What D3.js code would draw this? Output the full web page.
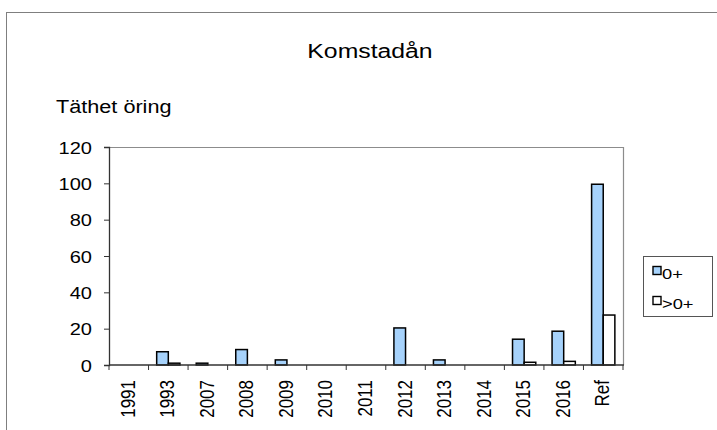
<!DOCTYPE html>
<html><head><meta charset="utf-8">
<script src="https://cdn.jsdelivr.net/npm/d3@7"></script>
<style>body{margin:0;background:#fff}svg{display:block;font-family:Arial,"Liberation Sans",sans-serif}</style>
</head><body>
<script>
const categories = ["1991","1993","2007","2008","2009","2010","2011","2012","2013","2014","2015","2016","Ref"];
const seriesNames = ["0+", ">0+"];
const values0 = [0, 7.3, 1, 8.5, 2.8, 0, 0, 20.4, 2.8, 0, 14.2, 18.6, 99.5];
const values1 = [0, 1, 0, 0, 0, 0, 0, 0, 0, 0, 1.5, 2, 27.5];
const yTicks = [0, 20, 40, 60, 80, 100, 120];
const colors = ["#a6d2fb", "#ffffff"];

const W = 717, H = 430;
const SX = 1.18; // horizontal stretch of the original text
const svg = d3.select("body").append("svg").attr("width", W).attr("height", H);
svg.append("rect").attr("x", 6.5).attr("y", 12.5).attr("width", W + 10).attr("height", H + 10)
  .attr("fill", "none").attr("stroke", "#7f7f7f").attr("stroke-width", 1);

const m = {left: 109, right: 623, top: 147, bottom: 365};
const x = d3.scaleBand().domain(categories).range([m.left, m.right]);
const y = d3.scaleLinear().domain([0, 120]).range([m.bottom, m.top]);
const xs = d3.scaleBand().domain([0, 1]).range([0, x.bandwidth()]).paddingOuter(0.7).paddingInner(0);

svg.append("text").attr("transform", `translate(370,58) scale(${SX},1)`).attr("text-anchor", "middle")
  .attr("font-size", 21).text("Komstadån");
svg.append("text").attr("transform", `translate(56,113) scale(1.14,1)`).attr("font-size", 19).text("Täthet öring");

// plot frame top/right
svg.append("path").attr("d", `M${m.left},${m.top+0.5}H${m.right+0.5}V${m.bottom}`)
  .attr("fill", "none").attr("stroke", "#8c8c8c").attr("stroke-width", 1.2);

const data = [values0, values1];
data.forEach((vals, s) => {
  svg.append("g").selectAll("rect").data(categories).join("rect")
    .attr("x", (c) => x(c) + xs(s))
    .attr("width", xs.bandwidth())
    .attr("y", (c, i) => y(vals[i]))
    .attr("height", (c, i) => m.bottom - y(vals[i]))
    .attr("fill", colors[s]).attr("stroke", "#000").attr("stroke-width", 1.5)
    .attr("display", (c, i) => vals[i] > 0 ? null : "none");
});

const yAxis = svg.append("g").attr("transform", `translate(${m.left},0)`)
  .call(d3.axisLeft(y).tickValues(yTicks).tickSize(5).tickPadding(8));
yAxis.selectAll("text").attr("font-size", 17).attr("fill", "#000")
  .attr("x", null).attr("dy", null)
  .attr("transform", `translate(-17,6) scale(${SX},1)`);
yAxis.select(".domain").attr("stroke", "#333").attr("stroke-width", 1.3);
yAxis.selectAll("line").attr("stroke", "#333");

const xAxis = svg.append("g").attr("transform", `translate(0,${m.bottom})`);
xAxis.append("line").attr("x1", m.left).attr("x2", m.right + 1).attr("stroke", "#333").attr("stroke-width", 1.3);
xAxis.selectAll("line.t").data(categories.concat(["end"])).join("line").attr("class", "t")
  .attr("x1", (c, i) => m.left + i * x.step()).attr("x2", (c, i) => m.left + i * x.step())
  .attr("y1", 0).attr("y2", 5).attr("stroke", "#333");
xAxis.selectAll("text").data(categories).join("text")
  .attr("transform", (c) => `translate(${x(c) + x.bandwidth() / 2 + 6},15) rotate(-90) scale(1,${SX})`)
  .attr("text-anchor", "end").attr("font-size", 17).text((c) => c);

// legend
const lg = svg.append("g");
lg.append("rect").attr("x", 643.5).attr("y", 256.5).attr("width", 69).attr("height", 60)
  .attr("fill", "#fff").attr("stroke", "#555").attr("stroke-width", 1);
seriesNames.forEach((n, i) => {
  const yy = 270.5 + i * 30;
  lg.append("rect").attr("x", 653).attr("y", yy - 4).attr("width", 8).attr("height", 8)
    .attr("fill", colors[i]).attr("stroke", "#000").attr("stroke-width", 1.4);
  lg.append("text").attr("transform", `translate(662,${yy + 8}) scale(${SX},1)`).attr("font-size", 15.5).text(n);
});
</script>
</body></html>
